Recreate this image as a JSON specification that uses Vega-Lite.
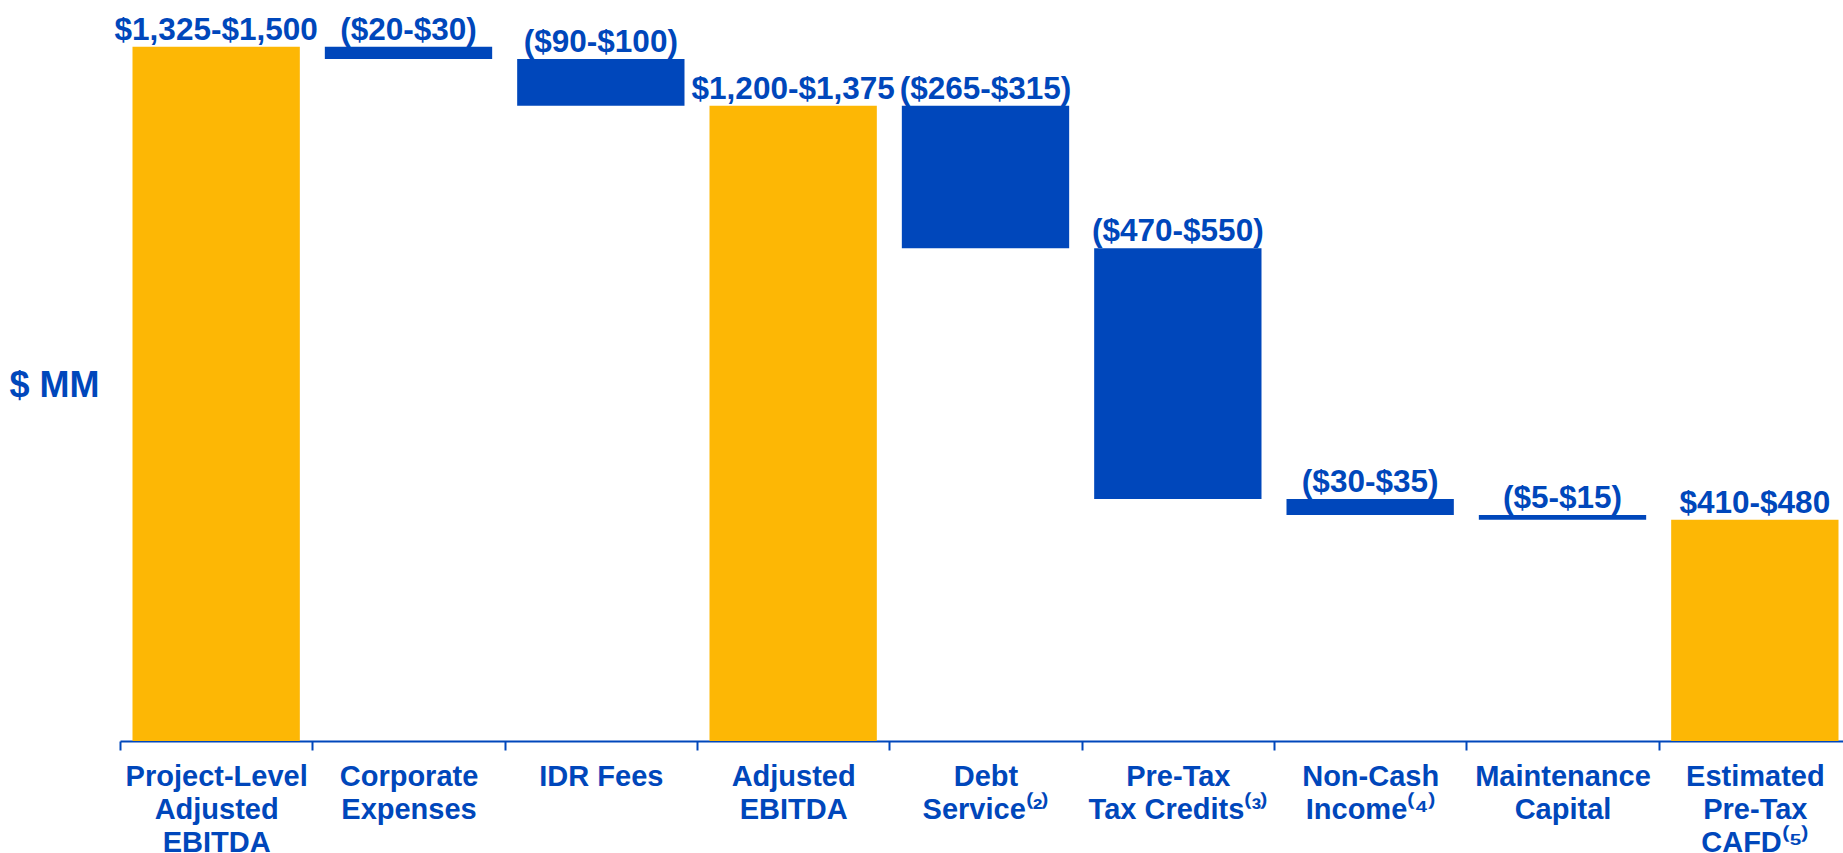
{
  "$schema": "https://vega.github.io/schema/vega-lite/v6.json",
  "autosize": {"type": "none"},
  "padding": {"left": 120, "top": 0, "right": 0, "bottom": 112},
  "width": 1723,
  "height": 741,
  "background": "white",
  "config": {"view": {"stroke": null}, "font": "Liberation Sans"},
  "data": {
    "values": [
      {"category": "Project-Level|Adjusted|EBITDA", "lo": 0, "hi": 1412.5, "kind": "total", "label": "$1,325-$1,500"},
      {"category": "Corporate|Expenses", "lo": 1387.5, "hi": 1412.5, "kind": "change", "label": "($20-$30)"},
      {"category": "IDR Fees", "lo": 1292.5, "hi": 1387.5, "kind": "change", "label": "($90-$100)"},
      {"category": "Adjusted|EBITDA", "lo": 0, "hi": 1292.5, "kind": "total", "label": "$1,200-$1,375"},
      {"category": "Debt|Service⁽²⁾", "lo": 1002.5, "hi": 1292.5, "kind": "change", "label": "($265-$315)"},
      {"category": "Pre-Tax|Tax Credits⁽³⁾", "lo": 492.5, "hi": 1002.5, "kind": "change", "label": "($470-$550)"},
      {"category": "Non-Cash|Income⁽⁴⁾", "lo": 460, "hi": 492.5, "kind": "change", "label": "($30-$35)"},
      {"category": "Maintenance|Capital", "lo": 450, "hi": 460, "kind": "change", "label": "($5-$15)"},
      {"category": "Estimated|Pre-Tax|CAFD⁽⁵⁾", "lo": 0, "hi": 450, "kind": "total", "label": "$410-$480"}
    ]
  },
  "encoding": {
    "x": {
      "field": "category",
      "type": "nominal",
      "sort": null,
      "scale": {"range": [0, 1731], "paddingInner": 0, "paddingOuter": 0},
      "axis": {
        "title": null,
        "labelAngle": 0,
        "labelExpr": "split(datum.label, '|')",
        "labelFont": "Liberation Sans",
        "labelFontSize": 29,
        "labelFontWeight": "bold",
        "labelColor": "#0047BB",
        "labelLineHeight": 33,
        "labelBaseline": "top",
        "labelPadding": 12,
        "labelLimit": 0,
        "tickBand": "extent",
        "tickSize": 9,
        "tickColor": "#0047BB",
        "tickWidth": 2,
        "domainColor": "#0047BB",
        "domainWidth": 2,
        "grid": false
      }
    }
  },
  "layer": [
    {
      "mark": {"type": "bar", "width": {"band": 0.87}},
      "encoding": {
        "y": {
          "field": "hi",
          "type": "quantitative",
          "scale": {"domain": [0, 1507.5], "nice": false, "zero": true},
          "axis": {
            "title": "$ MM",
            "domain": false,
            "ticks": false,
            "labels": false,
            "grid": false,
            "titleAngle": 0,
            "titleX": -111,
            "titleY": 396,
            "titleAlign": "left",
            "titleBaseline": "alphabetic",
            "titleFont": "Liberation Sans",
            "titleFontSize": 36,
            "titleFontWeight": "bold",
            "titleColor": "#0047BB"
          }
        },
        "y2": {"field": "lo"},
        "color": {
          "field": "kind",
          "type": "nominal",
          "scale": {"domain": ["total", "change"], "range": ["#FDB705", "#0047BB"]},
          "legend": null
        }
      }
    },
    {
      "mark": {"type": "text", "baseline": "alphabetic", "dy": -7, "fontSize": 31.5, "fontWeight": "bold", "font": "Liberation Sans", "color": "#0047BB"},
      "encoding": {
        "y": {"field": "hi", "type": "quantitative"},
        "text": {"field": "label"}
      }
    }
  ]
}
